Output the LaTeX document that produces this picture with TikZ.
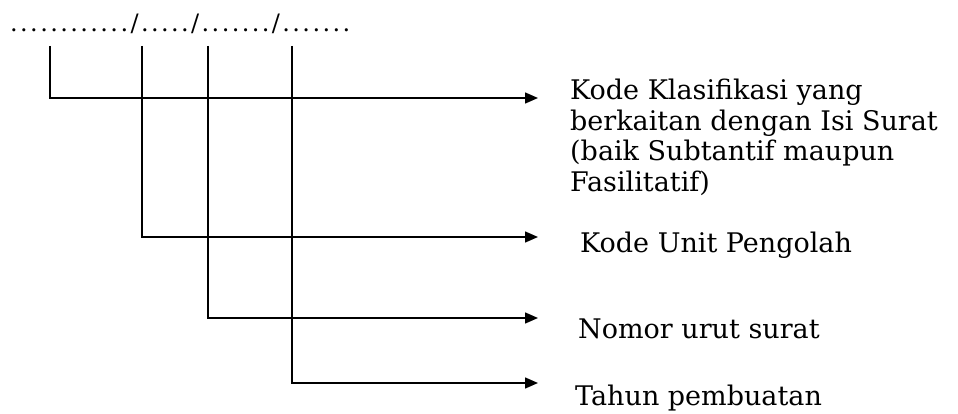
\documentclass[tikz,border=0pt]{standalone}
\usepackage{fontspec}
\setmainfont{DejaVu Serif}
\usetikzlibrary{arrows.meta}
\begin{document}
\begin{tikzpicture}[x=1pt,y=-1pt,
  conn/.style={line width=1.5pt,-{Triangle[length=13pt,width=11pt]}},
  lbl/.style={anchor=north west,align=left,inner sep=0pt,font=\fontsize{27}{30.5}\selectfont},
  code/.style={anchor=base west,inner sep=0pt,font=\fontsize{24}{28}\selectfont\addfontfeature{LetterSpace=10}}]
\useasboundingbox (0,0) rectangle (958,414);
\node[code] (num) at (10,32) {............/...../......./.......};
\coordinate (c1) at (50,46);
\coordinate (c2) at (142,46);
\coordinate (c3) at (208,46);
\coordinate (c4) at (292,46);
\coordinate (e1) at (538,98);
\coordinate (e2) at (538,237);
\coordinate (e3) at (538,318);
\coordinate (e4) at (538,383);
\node[lbl] (t1) at (570,79) {Kode Klasifikasi yang\\berkaitan dengan Isi Surat\\(baik Subtantif maupun\\Fasilitatif)};
\node[lbl] (t2) at (580,232) {Kode Unit Pengolah};
\node[lbl] (t3) at (578,319) {Nomor urut surat};
\node[lbl] (t4) at (575,385) {Tahun pembuatan};
\draw[conn] (c1) |- (e1);
\draw[conn] (c2) |- (e2);
\draw[conn] (c3) |- (e3);
\draw[conn] (c4) |- (e4);
\end{tikzpicture}
\end{document}
